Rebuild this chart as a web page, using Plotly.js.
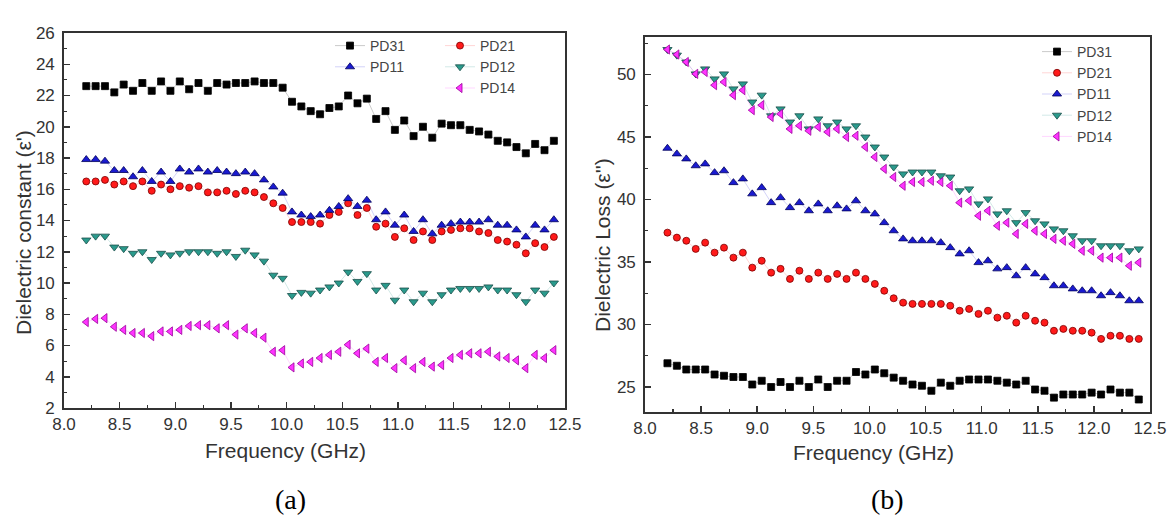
<!DOCTYPE html>
<html>
<head>
<meta charset="utf-8">
<script src="https://cdn.plot.ly/plotly-3.0.1.min.js"></script>
<style>
html,body{margin:0;padding:0;background:#fff;}
#chart{width:1172px;height:516px;}
</style>
</head>
<body>
<div id="chart"></div>
<script>
// Frequency grid (GHz)
const freq = [8.200,8.284,8.368,8.452,8.536,8.620,8.704,8.788,8.872,8.956,
  9.040,9.124,9.208,9.292,9.376,9.460,9.544,9.628,9.712,9.796,
  9.880,9.964,10.048,10.132,10.216,10.300,10.384,10.468,10.552,10.636,
  10.720,10.804,10.888,10.972,11.056,11.140,11.224,11.308,11.392,11.476,
  11.560,11.644,11.728,11.812,11.896,11.980,12.064,12.148,12.232,12.316,12.400];

// (a) Dielectric constant
const constPD31 = [22.6,22.6,22.6,22.2,22.7,22.3,22.8,22.3,22.9,22.3,22.9,22.4,22.8,22.3,22.8,22.7,22.8,22.8,22.9,22.8,22.8,22.5,
  21.6,21.3,21.0,20.8,21.2,21.3,22.0,21.5,21.8,20.5,21.0,19.8,20.4,19.4,20.0,19.3,20.2,20.1,20.1,19.8,19.7,19.5,19.1,19.0,18.7,18.3,18.9,18.5,19.1];
const constPD21 = [16.5,16.5,16.6,16.3,16.5,16.2,16.5,15.9,16.3,16.0,16.2,16.1,16.2,15.8,15.8,15.9,15.7,15.9,15.8,15.5,15.1,14.8,
  13.9,13.9,13.9,13.8,14.35,14.55,15.1,14.35,14.8,13.6,13.8,12.95,13.5,12.75,13.3,12.75,13.3,13.4,13.5,13.5,13.3,13.2,12.75,12.65,12.45,11.9,12.55,12.3,12.95];
const constPD11 = [17.9,17.9,17.8,17.2,17.2,16.8,17.2,16.5,17.1,16.5,17.3,17.1,17.3,17.1,17.2,17.1,17.0,17.1,17.0,16.6,16.15,15.75,
  14.55,14.35,14.25,14.35,14.65,14.9,15.4,14.9,15.3,14.05,14.55,13.7,14.35,13.3,14.05,13.15,13.7,13.8,13.9,13.9,13.9,14.05,13.7,13.7,13.4,12.95,13.7,13.4,14.05];
const constPD12 = [12.75,13.0,13.0,12.3,12.2,11.9,12.0,11.5,11.9,11.8,11.9,12.0,12.0,12.0,11.9,12.0,11.7,12.1,11.8,11.4,10.5,10.3,
  9.2,9.4,9.35,9.55,9.75,10.0,10.7,10.1,10.6,9.55,9.85,8.9,9.55,8.8,9.35,8.8,9.25,9.55,9.65,9.65,9.65,9.75,9.55,9.55,9.25,8.8,9.55,9.35,10.0];
const constPD14 = [7.5,7.7,7.75,7.2,7.0,6.8,6.8,6.6,6.9,6.9,7.0,7.25,7.3,7.3,7.1,7.3,6.7,7.1,6.8,6.5,5.6,5.7,
  4.6,4.85,4.95,5.2,5.4,5.6,6.05,5.5,5.8,4.95,5.2,4.55,5.05,4.55,4.95,4.65,4.75,5.2,5.4,5.5,5.5,5.6,5.3,5.2,5.05,4.55,5.4,5.2,5.7];

// (b) Dielectric loss
const lossPD31 = [26.9,26.7,26.4,26.4,26.4,26.0,25.9,25.8,25.8,25.2,25.5,25.0,25.4,25.0,25.5,25.0,25.6,25.0,25.5,25.5,26.2,26.0,26.4,26.1,
  25.75,25.5,25.2,25.1,24.7,25.35,25.1,25.5,25.6,25.6,25.6,25.5,25.35,25.2,25.5,24.8,24.7,24.15,24.4,24.4,24.4,24.55,24.4,24.8,24.55,24.55,24.0];
const lossPD21 = [37.35,36.95,36.7,36.05,36.55,35.75,36.15,35.35,35.75,34.55,35.1,34.15,34.45,33.65,34.3,33.65,34.15,33.65,34.05,33.65,34.15,33.65,33.25,32.7,32.1,
  31.75,31.65,31.65,31.65,31.65,31.5,31.1,31.25,30.85,31.1,30.55,30.7,30.15,30.7,30.3,30.15,29.5,29.65,29.5,29.5,29.35,28.85,29.1,29.1,28.85,28.85];
const lossPD11 = [44.1,43.65,43.25,42.7,42.85,42.15,42.3,41.35,41.65,40.45,40.95,39.75,40.15,39.35,39.75,39.1,39.65,39.1,39.5,39.25,39.9,39.1,38.85,38.15,37.5,
  36.85,36.7,36.7,36.7,36.55,36.15,35.65,35.9,34.95,35.1,34.45,34.55,33.9,34.55,34.05,33.75,33.1,33.1,32.85,32.7,32.7,32.3,32.55,32.3,31.9,31.9];
const lossPD12 = [52.0,51.55,51.0,50.05,50.45,49.65,50.05,48.85,49.25,47.8,48.35,46.7,47.25,46.2,46.7,45.65,46.45,45.9,46.2,45.65,45.9,45.0,44.2,43.4,42.6,
  42.05,42.2,42.2,42.2,41.9,41.8,40.7,40.85,39.65,40.05,38.85,39.1,38.15,38.95,38.3,38.05,37.65,37.5,37.1,36.7,36.7,36.3,36.3,36.3,35.9,36.05];
const lossPD14 = [52.0,51.6,51.0,50.05,50.2,49.15,49.4,48.35,48.75,47.15,47.55,46.6,46.85,45.65,45.9,45.5,45.8,45.4,45.65,45.0,45.1,44.2,43.4,42.45,41.8,
  41.1,41.4,41.4,41.5,41.4,41.1,39.75,39.9,38.7,39.1,37.9,38.15,37.25,38.05,37.5,37.25,36.85,36.7,36.45,35.9,35.9,35.35,35.35,35.35,34.7,34.95];

const names = ['PD31','PD21','PD11','PD12','PD14'];
const styles = {
  PD31:{symbol:'square', color:'#000000', edge:'#000000', size:7, line:'rgba(0,0,0,0.35)'},
  PD21:{symbol:'circle', color:'#ff1a1a', edge:'#7a0000', size:7, line:'rgba(255,60,60,0.35)'},
  PD11:{symbol:'triangle-up', color:'#1a1ad0', edge:'#00005a', size:8, line:'rgba(40,40,220,0.35)'},
  PD12:{symbol:'triangle-down', color:'#2a9a8c', edge:'#1a4f4a', size:8, line:'rgba(40,150,140,0.35)'},
  PD14:{symbol:'triangle-left', color:'#ff33ff', edge:'#9a009a', size:8, line:'rgba(255,60,255,0.35)'}
};
const constData = {PD31:constPD31, PD21:constPD21, PD11:constPD11, PD12:constPD12, PD14:constPD14};
const lossData = {PD31:lossPD31, PD21:lossPD21, PD11:lossPD11, PD12:lossPD12, PD14:lossPD14};
const leftLegend = {PD31:'legend', PD11:'legend', PD21:'legend2', PD12:'legend2', PD14:'legend2'};

function mk(name, y, xa, ya, leg){
  const s = styles[name];
  return {x:freq, y:y, name:name, type:'scatter', mode:'lines+markers',
    xaxis:xa, yaxis:ya, legend:leg,
    line:{color:s.line, width:0.6},
    marker:{symbol:s.symbol, size:s.size, color:s.color, line:{color:s.edge, width:0.8}}};
}
const traces = [];
names.forEach(n => traces.push(mk(n, constData[n], 'x', 'y', leftLegend[n])));
names.forEach(n => traces.push(mk(n, lossData[n], 'x2', 'y2', 'legend3')));

const W = 1172, H = 516;
const tickFont = {family:'Liberation Sans, Arial, sans-serif', size:17, color:'#333'};
function xax(domain, anchor){
  return {domain:domain, anchor:anchor, range:[8,12.5], tick0:8, dtick:0.5, tickformat:'.1f',
    ticks:'inside', ticklen:6, tickwidth:1.5, tickcolor:'#333',
    minor:{dtick:0.25, ticks:'inside', ticklen:3, tickwidth:1.2, tickcolor:'#333'},
    showline:true, linecolor:'#333', linewidth:1.8, mirror:true,
    showgrid:false, zeroline:false, tickfont:tickFont, ticklabelstandoff:0, fixedrange:true};
}
function yax(domain, anchor, range, dtick, minor){
  return {domain:domain, anchor:anchor, range:range, tick0:0, dtick:dtick,
    ticks:'inside', ticklen:6, tickwidth:1.5, tickcolor:'#333',
    minor:{dtick:minor, ticks:'inside', ticklen:3, tickwidth:1.2, tickcolor:'#333'},
    showline:true, linecolor:'#333', linewidth:1.8, mirror:true,
    showgrid:false, zeroline:false, tickfont:tickFont, ticklabelstandoff:4, fixedrange:true};
}
const legFont = {family:'Liberation Sans, Arial, sans-serif', size:14, color:'#444'};
function leg(xpx, ypx){
  return {x:xpx/W, y:1-ypx/H, xanchor:'left', yanchor:'top', bgcolor:'rgba(0,0,0,0)',
    borderwidth:0, font:legFont, tracegroupgap:0, itemclick:false, itemdoubleclick:false};
}
const titleFont = {family:'Liberation Sans, Arial, sans-serif', size:21, color:'#333'};
const labFont = {family:'Liberation Serif, DejaVu Serif, serif', size:28, color:'#000'};
const layout = {
  width:W, height:H, margin:{l:0,r:0,t:0,b:0},
  paper_bgcolor:'#fff', plot_bgcolor:'#fff', showlegend:true,
  xaxis: xax([64/W, 565/W], 'y'),
  yaxis: yax([1-408/H, 1-33/H], 'x', [2,26], 2, 1),
  xaxis2: xax([645/W, 1150/W], 'y2'),
  yaxis2: yax([1-412/H, 1-37/H], 'x2', [23,53], 5, 2.5),
  legend: leg(330, 30),
  legend2: leg(440, 30),
  legend3: leg(1037, 36),
  annotations:[
    {text:'Frequency (GHz)', x:285/W, y:1-450/H, xref:'paper', yref:'paper', xanchor:'center', yanchor:'middle', showarrow:false, font:titleFont},
    {text:'Frequency (GHz)', x:873/W, y:1-452/H, xref:'paper', yref:'paper', xanchor:'center', yanchor:'middle', showarrow:false, font:titleFont},
    {text:"Dielectric constant (ε')", x:23/W, y:1-233/H, xref:'paper', yref:'paper', xanchor:'center', yanchor:'middle', textangle:-90, showarrow:false, font:titleFont},
    {text:"Dielectric Loss (ε'')", x:603/W, y:1-245/H, xref:'paper', yref:'paper', xanchor:'center', yanchor:'middle', textangle:-90, showarrow:false, font:titleFont},
    {text:'(a)', x:290/W, y:1-499/H, xref:'paper', yref:'paper', xanchor:'center', yanchor:'middle', showarrow:false, font:labFont},
    {text:'(b)', x:888/W, y:1-499/H, xref:'paper', yref:'paper', xanchor:'center', yanchor:'middle', showarrow:false, font:labFont}
  ]
};
Plotly.newPlot('chart', traces, layout, {displayModeBar:false, staticPlot:true});
</script>
</body>
</html>
